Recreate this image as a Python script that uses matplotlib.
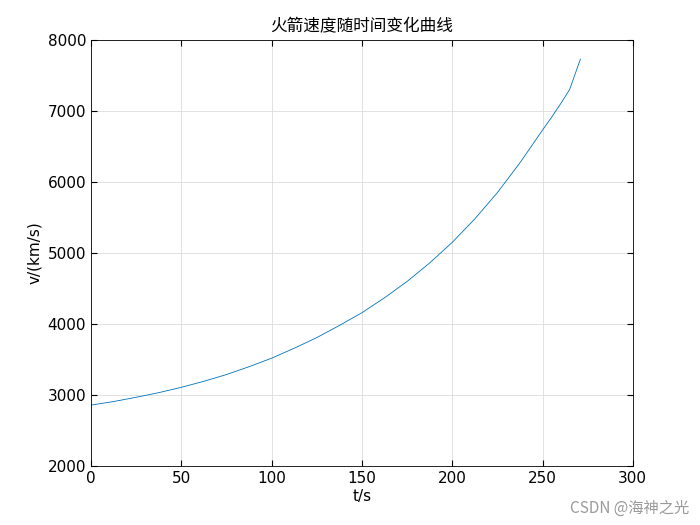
import matplotlib
matplotlib.use('Agg')
import matplotlib.pyplot as plt

plt.rcParams['font.family'] = ['DejaVu Sans', 'Noto Sans CJK SC']

# values
t = [0, 12.5, 25, 37.5, 50, 62.5, 75, 87.5, 100, 112.5, 125, 137.5, 150,
     162.5, 175, 187.5, 200, 212.5, 225, 237.5, 250, 255, 260, 265, 271]
v = [2860, 2910, 2970, 3035, 3110, 3195, 3290, 3400, 3520, 3660, 3810, 3980, 4160,
     4370, 4600, 4860, 5150, 5480, 5850, 6270, 6730, 6910, 7100, 7300, 7730]

fig = plt.figure(figsize=(7, 5.25), dpi=100)
ax = fig.add_axes([0.13, 0.112, 0.774, 0.812])
ax.plot(t, v, color='#0072BD', linewidth=0.6)
ax.set_xlim(0, 300)
ax.set_ylim(2000, 8000)
ax.set_xticks(range(0, 301, 50))
ax.set_yticks(range(2000, 8001, 1000))
ax.grid(True, color='#dcdcdc', linewidth=0.6)
ax.tick_params(direction='in', top=True, right=True, labelsize=11, length=4)
for s in ax.spines.values():
    s.set_linewidth(0.6)
ax.set_xlabel('t/s', fontsize=11, labelpad=2)
ax.set_ylabel('v/(km/s)', fontsize=11)
ax.set_title('火箭速度随时间变化曲线', fontsize=12, family=['Noto Sans CJK SC', 'DejaVu Sans'])
fig.text(0.985, 0.015, 'CSDN @海神之光', ha='right', va='bottom', fontsize=11,
         color='#9a9a9a', family=['Noto Sans CJK SC', 'DejaVu Sans'])
fig.savefig('out.png')
